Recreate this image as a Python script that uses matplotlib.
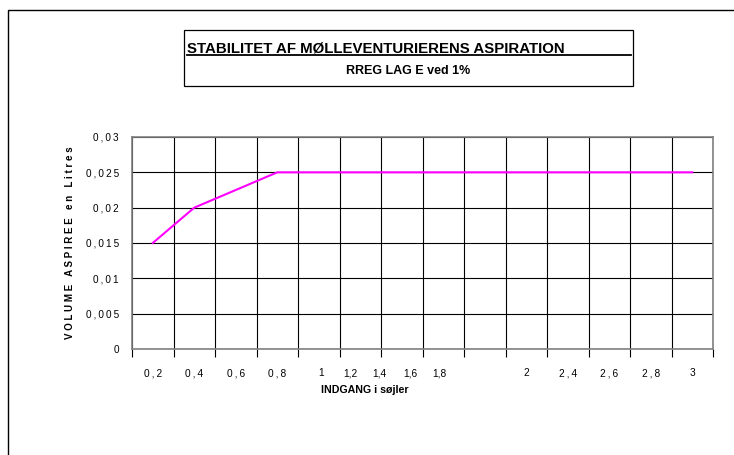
import matplotlib
matplotlib.use('Agg')
import matplotlib.pyplot as plt
from matplotlib.patches import Rectangle
from matplotlib.lines import Line2D
from matplotlib.transforms import ScaledTranslation

plt.rcParams['font.family'] = ['Liberation Sans', 'DejaVu Sans']

# data
categories = ['0,2', '0,4', '0,6', '0,8', '1', '1,2', '1,4', '1,6', '1,8',
              '2', '2,4', '2,6', '2,8', '3']
volume = [0.015, 0.02, 0.0225, 0.025, 0.025, 0.025, 0.025, 0.025, 0.025,
          0.025, 0.025, 0.025, 0.025, 0.025]
y_ticks = [0, 0.005, 0.01, 0.015, 0.02, 0.025, 0.03]
y_labels = ['0', '0,005', '0,01', '0,015', '0,02', '0,025', '0,03']
# the original squeezes some category labels to the left (pixels)
label_shift = [0, 0, 0, 0, 2, -10, -22, -33, -45, 0, 0, 0, 0, 0]
tight_labels = {5, 6, 7, 8}   # these are drawn without letter spacing


def spaced(s):
    # mimic the wide letter spacing of the original chart
    return '\u2009'.join(s)


W, H = 734, 455
fig = plt.figure(figsize=(W / 100, H / 100), dpi=100)

# outer frame of the chart sheet
fig.patches.append(Rectangle((7.5 / W, -0.2), 1.5, (H - 10) / H + 0.2,
                             transform=fig.transFigure, fill=False,
                             edgecolor='black', linewidth=1.0))

# title box
fig.patches.append(Rectangle((184 / W, 1 - 86 / H), (633 - 184) / W, 56 / H,
                             transform=fig.transFigure, fill=False,
                             edgecolor='black', linewidth=0.9))
fig.text(187 / W, 1 - 52.5 / H, 'STABILITET AF MØLLEVENTURIERENS ASPIRATION',
         fontsize=10.8, fontweight='bold', ha='left', va='baseline')
fig.lines.append(Line2D([187 / W, 631 / W], [1 - 54.5 / H, 1 - 54.5 / H],
                        transform=fig.transFigure, color='black', linewidth=1.3))
fig.text(408 / W, 1 - 71 / H, 'RREG LAG E ved 1%',
         fontsize=9, fontweight='bold', ha='center', va='center')

ax = fig.add_axes([132 / W, 1 - 349 / H, 581 / W, 212 / H])
x = list(range(len(categories)))
ax.plot(x, volume, color='#ff00ff', linewidth=1.5, zorder=3)

ax.set_xlim(-0.5, len(categories) - 0.5)
ax.set_ylim(0, 0.03)

ax.set_xticks(x)
ax.set_xticklabels([c if i in tight_labels else spaced(c) for i, c in enumerate(categories)],
                   fontsize=7.3)
ax.set_xticks([i - 0.5 for i in range(len(categories) + 1)], minor=True)
ax.tick_params(axis='x', which='major', length=0, pad=14)
ax.tick_params(axis='x', which='minor', length=6, width=0.8, direction='out')
for lab, dx in zip(ax.get_xticklabels(), label_shift):
    lab.set_transform(lab.get_transform() + ScaledTranslation(dx / 100, 0, fig.dpi_scale_trans))

ax.set_yticks(y_ticks)
ax.set_yticklabels([spaced(s) for s in y_labels], fontsize=7.2)
ax.tick_params(axis='y', length=0, pad=9.5)

ax.grid(True, which='minor', axis='x', color='black', linewidth=0.8)
ax.grid(True, which='major', axis='y', color='black', linewidth=0.8)
ax.set_axisbelow(True)
for s in ax.spines.values():
    s.set_color('#808080')
    s.set_linewidth(1.2)

ax.set_xlabel('INDGANG i søjler', fontsize=7.7, fontweight='bold')
ax.xaxis.set_label_coords((365 - 132) / 581, (349 - 390) / 212)
ax.xaxis.label.set_va('center')
ax.set_ylabel('V O L U M E   A S P I R E E   e n   L i t r e s',
              fontsize=7, fontweight='bold')
ax.yaxis.set_label_coords((70 - 132) / 581, 0.5)
ax.yaxis.label.set_va('center')

fig.savefig('out.png', dpi=100)
